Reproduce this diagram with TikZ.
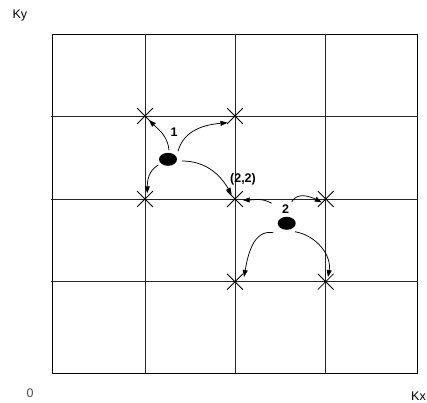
\documentclass[tikz,border=0pt]{standalone}
\usepackage{fontspec}
\setmainfont{Liberation Sans}
\usetikzlibrary{arrows.meta,shapes.misc,shapes.geometric}

\begin{document}
\begin{tikzpicture}[x=1pt,y=1pt,
  kpt/.style={cross out,draw,line width=0.8pt,minimum size=15pt,inner sep=0pt},
  blob/.style={ellipse,fill=black,minimum width=18pt,minimum height=13pt,inner sep=0pt},
  hop/.style={-{Triangle[length=7pt,width=5pt]},line width=0.75pt},
  lbl/.style={font=\fontsize{12.5}{14}\selectfont\bfseries},
  axlbl/.style={font=\fontsize{12.5}{14}\selectfont}]
\useasboundingbox (0,0) rectangle (427,402);
\draw[line width=1pt] (52.5,29) rectangle (417.7,367.7);
\foreach \x in {145,235,325.7}
  \draw[line width=0.8pt,black!85] (\x,29) -- (\x,367.7);
\foreach \y in {120.3,203,286}
  \draw[line width=0.8pt,black!85] (51,\y) -- (417.7,\y);
\node[kpt] (k13) at (145,286) {};
\node[kpt] (k23) at (235,286) {};
\node[kpt] (k12) at (145,203) {};
\node[kpt] (k22) at (235,203) {};
\node[kpt] (k32) at (325.7,203) {};
\node[kpt] (k21) at (235,120.3) {};
\node[kpt] (k31) at (325.7,120.3) {};
\node[blob] (d1) at (168,242.7) {};
\node[blob] (d2) at (286.7,178.7) {};
\node[lbl] (n1) at (174,270) {1};
\node[lbl] (n22) at (243,223) {(2,2)};
\node[lbl] (n2) at (285.7,193) {2};
\draw[hop] ([shift={(1,9)}]d1.center) to[out=95,in=-45] ([shift={(4,-4)}]k13.center);
\draw[hop] ([shift={(10,8)}]d1.center) to[out=75,in=185] ([shift={(-7.5,-6.7)}]k23.center);
\draw[hop] ([shift={(-9.7,-5.7)}]d1.center) to[out=210,in=90] ([shift={(2.3,5.7)}]k12.center);
\draw[hop] ([shift={(14,-1.7)}]d1.center) to[out=0,in=120] ([shift={(-3.3,4.3)}]k22.center);
\draw[hop] ([shift={(-15,20)}]d2.center) to[out=150,in=0] ([shift={(7.7,-1)}]k22.center);
\draw[hop] ([shift={(5,21.6)}]d2.center) to[out=60,in=153] ([shift={(-4,-3.3)}]k32.center);
\draw[hop] ([shift={(-13.4,-9.4)}]d2.center) to[out=170,in=80] ([shift={(9,4.7)}]k21.center);
\draw[hop] ([shift={(8.3,-8.4)}]d2.center) to[out=-10,in=80] ([shift={(2.3,4.7)}]k31.center);
\node[axlbl,anchor=base west] (ky) at (9,383.5) {Ky};
\node[axlbl,text=black!70] (o) at (30,9) {0};
\node[axlbl,anchor=base east,inner xsep=1pt] (kx) at (427,2) {Kx};
\end{tikzpicture}
\end{document}
